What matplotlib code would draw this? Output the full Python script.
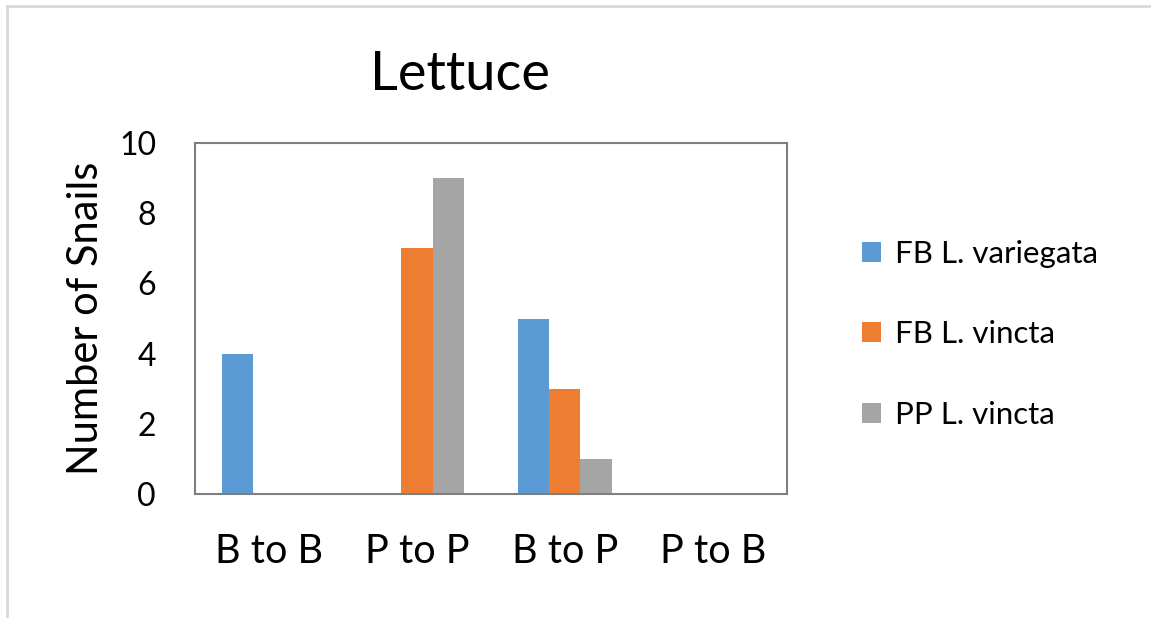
import numpy as np
import matplotlib
matplotlib.use("Agg")
import matplotlib.pyplot as plt
from matplotlib.lines import Line2D

plt.rcParams["font.family"] = ["Lato", "DejaVu Sans"]

# data
categories = ["B to B", "P to P", "B to P", "P to B"]
fb_variegata = [4, 0, 5, 0]
fb_vincta = [0, 7, 3, 0]
pp_vincta = [0, 9, 1, 0]
series_names = ["FB L. variegata", "FB L. vincta", "PP L. vincta"]
colours = ["#5b9bd5", "#ed7d31", "#a5a5a5"]

fig = plt.figure(figsize=(11.51, 6.18), dpi=100)
ax = fig.add_axes([0.1694, 0.2006, 0.5143, 0.568])

x = np.arange(len(categories))
w = 0.21
for i, (vals, name, c) in enumerate(zip([fb_variegata, fb_vincta, pp_vincta], series_names, colours)):
    ax.bar(x + (i - 1) * w, vals, w, color=c, label=name)

ax.set_xlim(-0.5, len(categories) - 0.5)
ax.set_ylim(0, 10)
ax.set_yticks(range(0, 11, 2))
ax.set_xticks(x)
ax.set_xticklabels(categories, fontsize=28.5)
ax.tick_params(axis="x", length=0, pad=28)
ax.tick_params(axis="y", length=0, pad=28, labelsize=23)
for s in ax.spines.values():
    s.set_color("#7f7f7f")
    s.set_linewidth(1.5)

ax.set_ylabel("Number of Snails", fontsize=30, labelpad=10)
fig.text(0.40, 0.88, "Lettuce", fontsize=39, ha="center", va="center")

ax.legend(loc="center left", bbox_to_anchor=(1.08, 0.455), frameon=False,
          fontsize=22.5, labelspacing=1.68, handlelength=0.6, handleheight=0.6,
          handletextpad=0.45)

# light outer frame (top and left only)
fig.add_artist(Line2D([0.006, 0.006], [0.0, 0.99], transform=fig.transFigure, color="#d9d9d9", lw=2))
fig.add_artist(Line2D([0.006, 1.0], [0.99, 0.99], transform=fig.transFigure, color="#d9d9d9", lw=2))

fig.savefig("out.png", dpi=100)
